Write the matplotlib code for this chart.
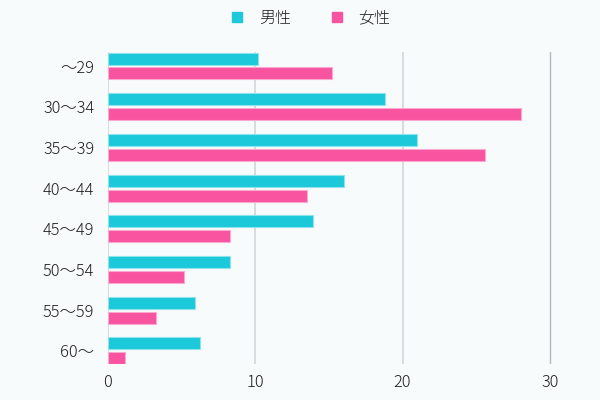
import matplotlib
matplotlib.use("Agg")
import matplotlib.pyplot as plt
import numpy as np
from matplotlib.lines import Line2D

plt.rcParams['font.family'] = ['Noto Sans CJK JP', 'DejaVu Sans']
plt.rcParams['font.weight'] = 'light'

categories = ["～29", "30～34", "35～39", "40～44", "45～49", "50～54", "55～59", "60～"]
male = [10.2, 18.8, 21.0, 16.0, 13.9, 8.3, 5.9, 6.3]
female = [15.2, 28.0, 25.6, 13.5, 8.3, 5.2, 3.3, 1.2]
series_names = ["男性", "女性"]
xticks = [0, 10, 20, 30]

bg = "#F7FBFC"
c_male = "#1BC9DB"
c_female = "#F8549F"
txt = "#1E1E1E"

fig = plt.figure(figsize=(6, 4), dpi=100, facecolor=bg)
ax = fig.add_axes([107.5/600, 1-364/400, (579.5-107.5)/600, (364-52)/400])
ax.set_facecolor(bg)

y = np.arange(len(categories))
h = 0.295
off = 0.184
ax.barh(y - off, male, height=h, color=c_male, edgecolor="#8FE3EC", linewidth=0.8, zorder=3)
ax.barh(y + off, female, height=h, color=c_female, edgecolor="#FBA9CF", linewidth=0.8, zorder=3)

ax.set_xlim(0, 32)
ax.set_ylim(len(categories) - 1 + 0.32, -0.344)
ax.set_yticks(y)
ax.set_yticklabels(categories)
ax.set_xticks(xticks)
ax.set_xticklabels([str(v) for v in xticks])

for s in ax.spines.values():
    s.set_visible(False)
ax.tick_params(axis='both', length=0, labelsize=11.8, labelcolor=txt)
ax.tick_params(axis='y', pad=9.5)
ax.tick_params(axis='x', pad=7.5)

for xv in xticks:
    col = "#B5B8BA" if xv == xticks[-1] else "#D5D9DB"
    lw = 1.0 if xv == xticks[-1] else 1.3
    ax.axvline(xv, color=col, linewidth=lw, zorder=1)

handles = [Line2D([], [], marker='s', linestyle='none', markersize=7.2, markerfacecolor=c, markeredgecolor=c)
           for c in (c_male, c_female)]
fig.legend(handles, series_names, loc='center', bbox_to_anchor=(311/600, 1-18/400), ncol=2, frameon=False,
           fontsize=11.5, handlelength=0.7, handletextpad=1.0, columnspacing=2.5, labelcolor=txt)

fig.savefig("out.png", dpi=100, facecolor=bg)
